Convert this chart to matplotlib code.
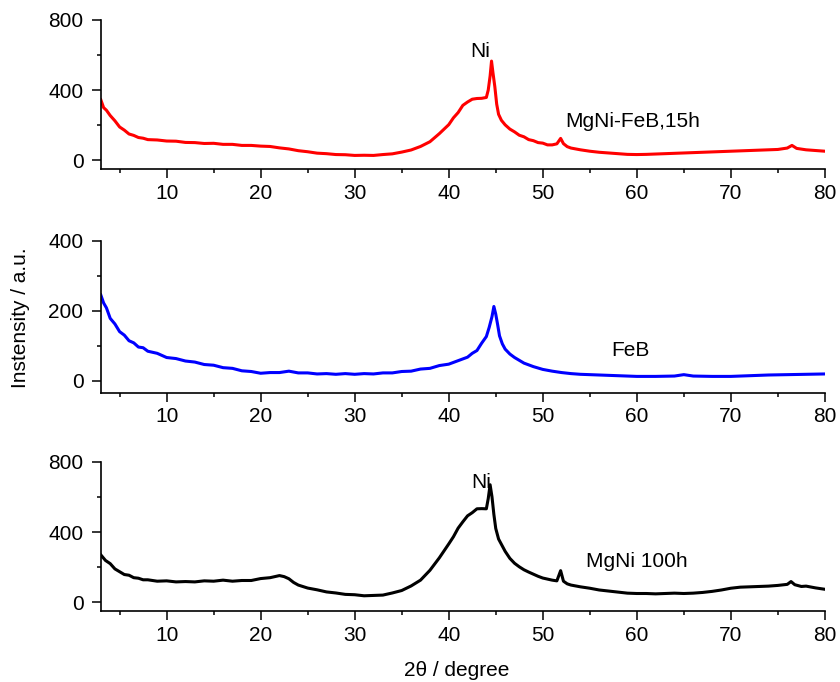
import matplotlib
matplotlib.use("Agg")
import matplotlib.pyplot as plt
from matplotlib.ticker import MultipleLocator

plt.rcParams['font.family'] = ['Liberation Sans', 'DejaVu Sans']

# ---- data ----
x_red = [3, 3.3, 3.6, 4, 4.5, 5, 5.5, 6, 6.5, 7, 7.5, 8, 9, 10, 11, 12, 13, 14, 15, 16, 17, 18, 19, 20,
         21, 22, 23, 24, 25, 26, 27, 28, 29, 30, 31, 32, 33, 34, 35, 36, 37, 38, 39, 40, 40.5, 41, 41.5,
         42, 42.5, 43, 43.5, 44, 44.2, 44.4, 44.55, 44.7, 44.9, 45.1, 45.3, 45.6, 46, 46.5, 47, 47.5, 48,
         48.5, 49, 49.5, 50, 50.5, 51, 51.5, 51.9, 52.2, 52.6, 53, 54, 55, 56, 57, 58, 59, 60, 61, 62, 63,
         64, 65, 66, 67, 68, 69, 70, 71, 72, 73, 74, 75, 76, 76.5, 77, 78, 79, 80]
y_red = [345, 300, 285, 255, 225, 190, 172, 150, 142, 130, 126, 118, 116, 110, 109, 102, 101, 96, 97, 91,
         91, 85, 85, 81, 79, 71, 65, 55, 49, 41, 38, 33, 32, 28, 29, 28, 33, 37, 47, 59, 79, 106, 152, 203,
         242, 272, 313, 332, 348, 352, 353, 358, 400, 480, 565, 500, 420, 320, 262, 228, 202, 178, 162, 143,
         134, 118, 112, 101, 98, 88, 88, 94, 125, 95, 78, 70, 60, 52, 46, 42, 38, 34, 33, 34, 36, 38, 40,
         42, 44, 46, 48, 50, 52, 54, 56, 58, 60, 62, 70, 85, 68, 60, 56, 52]

x_blue = [3, 3.3, 3.6, 4, 4.5, 5, 5.5, 6, 6.5, 7, 7.5, 8, 9, 10, 11, 12, 13, 14, 15, 16, 17, 18, 19, 20,
          21, 22, 23, 24, 25, 26, 27, 28, 29, 30, 31, 32, 33, 34, 35, 36, 37, 38, 39, 40, 41, 42, 42.5, 43,
          43.5, 44, 44.3, 44.6, 44.8, 45, 45.2, 45.4, 45.7, 46, 46.5, 47, 47.5, 48, 49, 50, 51, 52, 53, 54,
          55, 56, 57, 58, 59, 60, 62, 64, 65, 66, 68, 70, 72, 74, 76, 78, 80]
y_blue = [245, 222, 208, 178, 162, 140, 130, 114, 108, 96, 94, 84, 78, 66, 63, 56, 53, 46, 44, 37, 35, 28,
          26, 21, 23, 23, 27, 22, 22, 19, 20, 18, 20, 18, 20, 19, 22, 22, 26, 27, 33, 35, 43, 47, 57, 67,
          78, 86, 107, 126, 152, 183, 212, 190, 160, 128, 105, 90, 76, 66, 58, 50, 40, 32, 27, 23, 20, 18,
          17, 16, 15, 14, 13, 12, 12, 13, 17, 13, 12, 12, 14, 16, 17, 18, 19]

x_black = [3, 3.5, 4, 4.5, 5, 5.5, 6, 6.5, 7, 7.5, 8, 9, 10, 11, 12, 13, 14, 15, 16, 17, 18, 19, 20, 21,
           22, 22.5, 23, 23.5, 24, 25, 26, 27, 28, 29, 30, 31, 32, 33, 34, 35, 36, 37, 38, 39, 40, 40.5,
           41, 41.5, 42, 42.5, 43, 43.5, 44, 44.2, 44.4, 44.6, 44.8, 45, 45.3, 45.7, 46, 46.5, 47, 47.5,
           48, 48.5, 49, 49.5, 50, 50.5, 51, 51.5, 51.9, 52.2, 52.6, 53, 54, 55, 56, 57, 58, 59, 60, 61,
           62, 63, 64, 65, 66, 67, 68, 69, 70, 71, 72, 73, 74, 75, 76, 76.4, 76.8, 77.5, 78, 79, 80]
y_black = [270, 238, 220, 190, 174, 158, 154, 140, 137, 128, 128, 120, 122, 116, 118, 116, 122, 120, 126,
           120, 124, 124, 135, 140, 152, 146, 134, 113, 98, 81, 71, 59, 53, 45, 43, 37, 39, 41, 53, 67, 93,
           126, 182, 253, 332, 373, 422, 458, 492, 510, 532, 533, 532, 590, 669, 600, 500, 420, 360, 320,
           290, 250, 222, 202, 185, 172, 160, 148, 138, 132, 126, 122, 180, 120, 105, 98, 88, 80, 70, 64,
           58, 52, 50, 50, 48, 50, 52, 50, 52, 56, 62, 70, 80, 86, 88, 90, 92, 96, 102, 118, 100, 90, 92,
           82, 74]

xticks = [10, 20, 30, 40, 50, 60, 70, 80]

fig = plt.figure(figsize=(8.4, 6.82), dpi=100)
L, W = 0.120, 0.862
ax1 = fig.add_axes([L, 0.752, W, 0.219])
ax2 = fig.add_axes([L, 0.424, W, 0.223])
ax3 = fig.add_axes([L, 0.104, W, 0.219])

ax1.plot(x_red, y_red, color='#ff0000', lw=2.2)
ax2.plot(x_blue, y_blue, color='#0000ff', lw=2.2)
ax3.plot(x_black, y_black, color='black', lw=2.2)

for ax, ymax, ymin, step in [(ax1, 800, -50, 400), (ax2, 400, -35, 200), (ax3, 800, -50, 400)]:
    ax.set_xlim(3, 80)
    ax.set_ylim(ymin, ymax)
    ax.spines['top'].set_visible(False)
    ax.spines['right'].set_visible(False)
    ax.spines['left'].set_bounds(ymin, ymax)
    for s in ('left', 'bottom'):
        ax.spines[s].set_linewidth(1.2)
    ax.set_xticks(xticks)
    ax.xaxis.set_minor_locator(MultipleLocator(5))
    ax.set_yticks([0, step, 2 * step])
    ax.yaxis.set_minor_locator(MultipleLocator(step / 2))
    ax.tick_params(which='major', direction='out', length=6.5, width=1.1, labelsize=15)
    ax.tick_params(axis='x', which='major', pad=4)
    ax.tick_params(axis='y', which='major', pad=6)
    ax.tick_params(which='minor', direction='out', length=3, width=1.1)

ax1.text(43.3, 617, 'Ni', fontsize=15, ha='center', va='center')
ax1.text(52.4, 223, 'MgNi-FeB,15h', fontsize=15, ha='left', va='center')
ax2.text(59.3, 85, 'FeB', fontsize=15, ha='center', va='center')
ax3.text(43.4, 683, 'Ni', fontsize=15, ha='center', va='center')
ax3.text(54.6, 234, 'MgNi 100h', fontsize=15, ha='left', va='center')

fig.text(21 / 840, 0.534, 'Instensity / a.u.', fontsize=15, rotation=90, ha='center', va='center')
fig.text(457 / 840, 1 - 676 / 682, '2θ / degree', fontsize=15, ha='center', va='baseline')

fig.savefig('out.png', dpi=100)
